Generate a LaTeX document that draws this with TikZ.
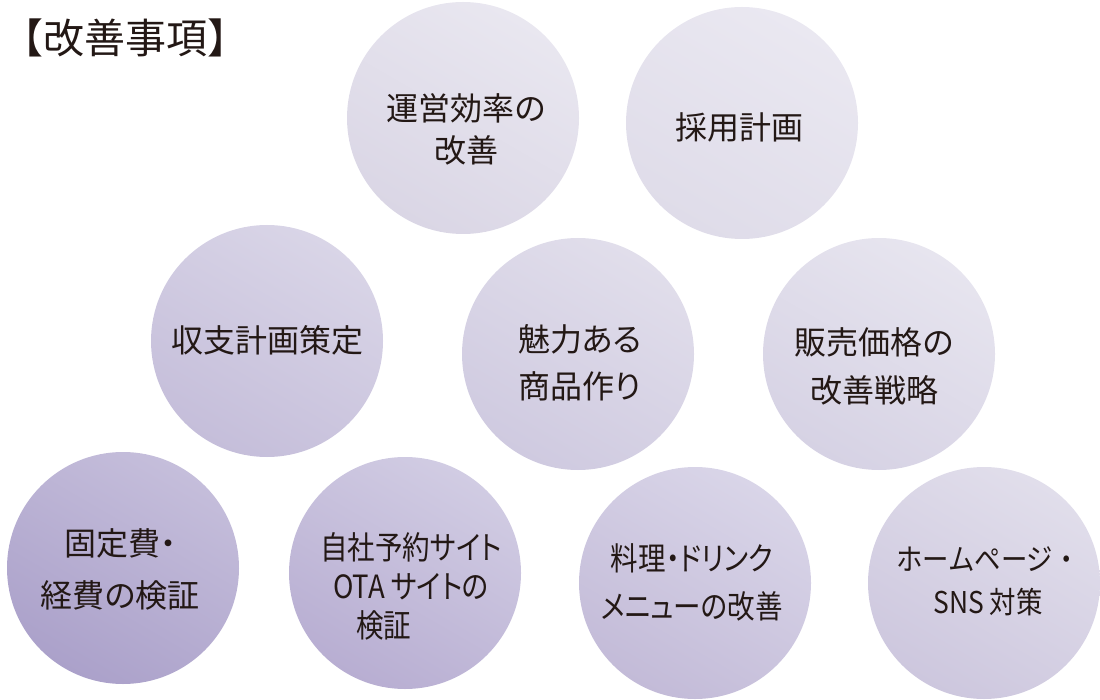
\documentclass[tikz,border=0pt]{standalone}
\usepackage{fontspec}
\setmainfont{Noto Sans CJK JP}
\newfontfamily\jp{Noto Sans CJK JP}[RawFeature=+palt]
\newfontfamily\jpc{Noto Sans CJK JP}[RawFeature=+palt,FakeStretch=0.86]
\newfontfamily\jpn{Noto Sans CJK JP}[FakeStretch=0.88]
\definecolor{ink}{HTML}{231815}
\definecolor{a1}{HTML}{E9E7F0}\definecolor{b1}{HTML}{DAD6E5}
\definecolor{a2}{HTML}{EAE8F1}\definecolor{b2}{HTML}{DFDCE9}
\definecolor{a3}{HTML}{D9D5E7}\definecolor{b3}{HTML}{C5BEDA}
\definecolor{a4}{HTML}{E1DEEB}\definecolor{b4}{HTML}{CFCAE0}
\definecolor{a5}{HTML}{E7E5EF}\definecolor{b5}{HTML}{D6D2E4}
\definecolor{a6}{HTML}{C5BEDB}\definecolor{b6}{HTML}{ABA1CA}
\definecolor{a7}{HTML}{D1CCE3}\definecolor{b7}{HTML}{B8AED2}
\definecolor{a8}{HTML}{D9D5E8}\definecolor{b8}{HTML}{C3BBD8}
\definecolor{a9}{HTML}{E1DEEB}\definecolor{b9}{HTML}{CDC7DE}
\begin{document}
\begin{tikzpicture}[x=1pt,y=-1pt,
  bubble/.style n args={2}{circle, draw=none, inner sep=0pt, minimum size=232pt,
     top color=#1, bottom color=#2, shading angle=-30},
  txt/.style={text=ink, align=center, inner sep=0pt},
  fs/.style={font=\jp\fontsize{32}{#1}\selectfont},
  fsc/.style={font=\jpc\fontsize{32}{#1}\selectfont},
  fsn/.style={font=\jpn\fontsize{30}{#1}\selectfont}]
\useasboundingbox (0,0) rectangle (1100,700);
% circles
\node[bubble={a1}{b1}] (c1) at (463,118) {};
\node[bubble={a2}{b2}] (c2) at (742,123) {};
\node[bubble={a3}{b3}] (c3) at (267,341) {};
\node[bubble={a4}{b4}] (c4) at (578,354) {};
\node[bubble={a5}{b5}] (c5) at (879,354) {};
\node[bubble={a6}{b6}] (c6) at (123,568) {};
\node[bubble={a7}{b7}] (c7) at (405,573) {};
\node[bubble={a8}{b8}] (c8) at (695,583) {};
\node[bubble={a9}{b9}] (c9) at (984,583) {};
% title
\node[txt, anchor=west, font=\fontsize{41}{43}\selectfont] (title) at (2,38) {【改善事項】};
% texts
\node[txt, fs=42] (t1) at (466,129) {運営効率の\\改善};
\node[txt, fs=42] (t2) at (739,127) {採用計画};
\node[txt, fs=42] (t3) at (267,340) {収支計画策定};
\node[txt, fs=47] (t4) at (580,363) {魅力ある\\商品作り};
\node[txt, fs=48] (t5) at (874,366) {販売価格の\\改善戦略};
\node[txt, fs=52] (t6) at (120,569) {固定費・\\経費の検証};
\node[txt, fsc=39] (t7) at (411,586) {自社予約サイト\\OTA サイトの\\\makebox[110pt][l]{検証}};
\node[txt, fsc=48] (t8) at (692,582) {料理・ドリンク\\メニューの改善};
\node[txt, fsn=43] (t9) at (988,581) {ホームページ・\\SNS 対策};
\end{tikzpicture}
\end{document}
